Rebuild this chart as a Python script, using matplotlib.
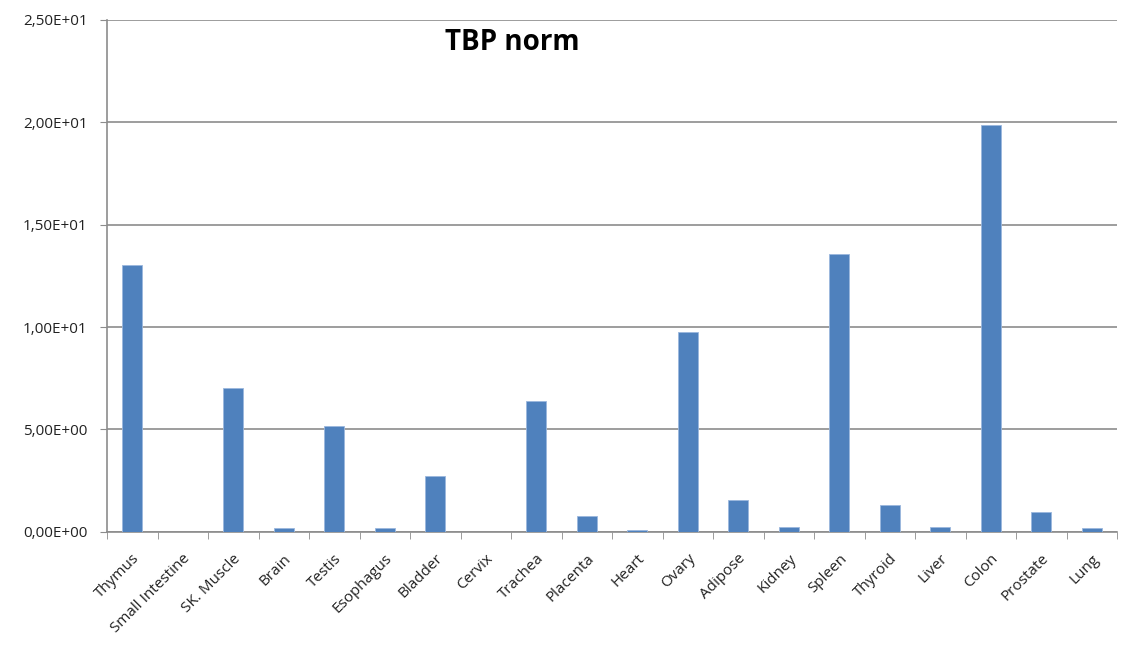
import numpy as np
import matplotlib.pyplot as plt
from matplotlib.ticker import FuncFormatter, FixedLocator

tissues = ['Thymus', 'Small Intestine', 'SK. Muscle', 'Brain', 'Testis',
           'Esophagus', 'Bladder', 'Cervix', 'Trachea', 'Placenta', 'Heart',
           'Ovary', 'Adipose', 'Kidney', 'Spleen', 'Thyroid', 'Liver',
           'Colon', 'Prostate', 'Lung']
tbp_norm = [13.04, 0.0, 7.0, 0.18, 5.15, 0.18, 2.72, 0.0, 6.37, 0.75, 0.1,
            9.76, 1.53, 0.24, 13.55, 1.3, 0.24, 19.87, 0.96, 0.18]
y_ticks = [0, 5, 10, 15, 20, 25]

plt.rcParams['font.family'] = ['Open Sans', 'DejaVu Sans']

fig = plt.figure(figsize=(11.28, 6.53), dpi=100)
ax = fig.add_axes([107 / 1128, 1 - 531.7 / 653, 1010 / 1128, 511.7 / 653])

x = np.arange(len(tissues))
ax.bar(x, tbp_norm, width=0.4, color='#4f81bd', edgecolor='#9bb7dd',
       linewidth=0.6, zorder=3)

ax.set_xlim(-0.5, len(tissues) - 0.5)
ax.set_ylim(0, 25)

# y axis in Excel style scientific notation with comma decimals
def sci_comma(v, pos):
    s = '%.2E' % v
    mant, exp = s.split('E')
    exp_sign = exp[0]
    exp_num = exp[1:].zfill(2)
    return mant.replace('.', ',') + 'E' + exp_sign + exp_num

ax.yaxis.set_major_locator(FixedLocator(y_ticks))
ax.yaxis.set_major_formatter(FuncFormatter(sci_comma))
ax.yaxis.grid(True, color='#8c8c8c', linewidth=1.2, zorder=0)
ax.tick_params(axis='y', direction='out', length=5, color='#8c8c8c',
               labelsize=11, labelcolor='#222222', pad=9)

# categories sit between tick marks
ax.set_xticks(x)
ax.set_xticklabels(tissues, rotation=45, ha='right', rotation_mode='anchor',
                   fontsize=11, color='#222222')
ax.tick_params(axis='x', which='major', length=0, pad=14)
ax.set_xticks(np.arange(-0.5, len(tissues)), minor=True)
ax.tick_params(axis='x', which='minor', direction='out', length=5,
               color='#8c8c8c')

for side in ['top', 'right']:
    ax.spines[side].set_visible(False)
for side in ['left', 'bottom']:
    ax.spines[side].set_color('#8c8c8c')
    ax.spines[side].set_linewidth(1.2)

fig.text(512 / 1128, 1 - 50 / 653, 'TBP norm', fontsize=20, fontweight='bold',
         ha='center', va='baseline')

fig.savefig('out.png', dpi=100)
